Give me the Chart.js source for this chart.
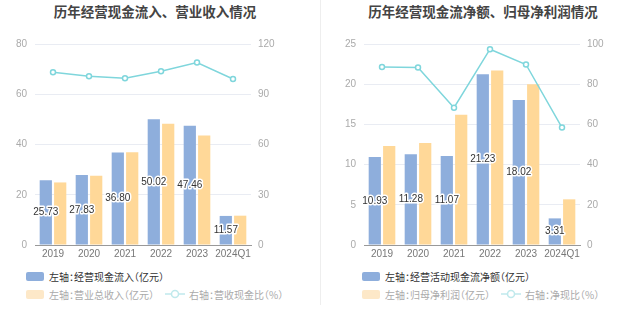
<!DOCTYPE html>
<html>
<head>
<meta charset="utf-8">
<script src="https://cdn.jsdelivr.net/npm/chart.js@4/dist/chart.umd.min.js"></script>
<style>
  body { margin: 0; width: 637px; height: 327px; background: #fff; position: relative; overflow: hidden;
         font-family: "Noto Sans CJK SC", sans-serif; }
  .panel { position: absolute; top: 0; height: 327px; }
  .panel canvas { position: absolute; left: 0; top: 0; }
  .title { position: absolute; top: 1px; font-size: 13.5px; font-weight: bold; color: #444; white-space: nowrap;
           transform: translateX(-50%); }
  .divider { position: absolute; left: 320px; top: 0; width: 1px; height: 305px; background: #eee; }
  .legend-row { position: absolute; display: flex; align-items: center; height: 12px; font-size: 10px;
                font-feature-settings: "halt"; white-space: nowrap; }
  .sw { width: 18px; height: 9px; border-radius: 2px; margin-right: 5px; }
  .item { display: flex; align-items: center; margin-right: 11px; }
  .item svg { margin-right: 4px; }
</style>
</head>
<body>
<div class="panel" style="left:0;width:318px">
  <div class="title" style="left:155px">历年经营现金流入、营业收入情况</div>
  <canvas id="chartLeft" width="318" height="262"></canvas>
  <div class="legend-row" style="left:26px;top:270px">
    <div class="item" style="color:#333"><div class="sw" style="background:#8eaedc"></div>左轴：经营现金流入（亿元）</div>
  </div>
  <div class="legend-row" style="left:26px;top:288px">
    <div class="item" style="color:#aaa"><div class="sw" style="background:#fde8c8"></div>左轴：营业总收入（亿元）</div>
    <div class="item" style="color:#aaa"><svg width="20" height="10"><line x1="0" y1="5" x2="20" y2="5" stroke="#bfe9ec" stroke-width="1.5"/><circle cx="10" cy="5" r="3.5" fill="#fff" stroke="#bfe9ec" stroke-width="1.5"/></svg>右轴：营收现金比（%）</div>
  </div>
</div>
<div class="divider"></div>
<div class="panel" style="left:320px;width:317px">
  <div class="title" style="left:163px">历年经营现金流净额、归母净利润情况</div>
  <canvas id="chartRight" width="317" height="262"></canvas>
  <div class="legend-row" style="left:42px;top:270px">
    <div class="item" style="color:#333"><div class="sw" style="background:#8eaedc"></div>左轴：经营活动现金流净额（亿元）</div>
  </div>
  <div class="legend-row" style="left:42px;top:288px">
    <div class="item" style="color:#aaa"><div class="sw" style="background:#fde8c8"></div>左轴：归母净利润（亿元）</div>
    <div class="item" style="color:#aaa"><svg width="20" height="10"><line x1="0" y1="5" x2="20" y2="5" stroke="#bfe9ec" stroke-width="1.5"/><circle cx="10" cy="5" r="3.5" fill="#fff" stroke="#bfe9ec" stroke-width="1.5"/></svg>右轴：净现比（%）</div>
  </div>
</div>
<script>
const years = ['2019', '2020', '2021', '2022', '2023', '2024Q1'];

// left chart
const cashInflow = [25.73, 27.83, 36.80, 50.02, 47.46, 11.57];
const revenue = [24.9, 27.6, 36.9, 48.3, 43.6, 11.67];
const cashRevenueRatio = [103.2, 100.8, 99.6, 103.7, 108.9, 99.1];

// right chart
const netCashFlow = [10.93, 11.28, 11.07, 21.23, 18.02, 3.31];
const netProfit = [12.3, 12.7, 16.2, 21.7, 20.0, 5.68];
const netCashRatio = [88.5, 88.3, 68.3, 97.4, 89.8, 58.4];

const BLUE = '#8eaedc';
const YELLOW = '#ffd898';
const TEAL = '#7fd6dc';

Chart.defaults.font.family = "'Liberation Sans', 'Noto Sans CJK SC', sans-serif";
Chart.defaults.font.size = 10;

// value labels in the middle of the blue bars (dataset 1, the line is dataset 0)
const barLabels = {
  id: 'barLabels',
  afterDatasetsDraw(chart) {
    const ctx = chart.ctx;
    const meta = chart.getDatasetMeta(1);
    const values = chart.data.datasets[1].data;
    ctx.save();
    ctx.font = "10px 'Liberation Sans', sans-serif";
    ctx.textAlign = 'center';
    ctx.textBaseline = 'middle';
    ctx.lineJoin = 'round';
    meta.data.forEach((bar, i) => {
      const y = (bar.y + bar.base) / 2;
      const txt = values[i].toFixed(2);
      ctx.strokeStyle = '#fff';
      ctx.lineWidth = 3;
      ctx.strokeText(txt, bar.x, y);
      ctx.fillStyle = '#333';
      ctx.fillText(txt, bar.x, y);
    });
    ctx.restore();
  }
};

function createChart(canvasId, bars1, bars2, line, leftMax, leftStep, rightMax, rightStep, leftW, rightW) {
  new Chart(document.getElementById(canvasId), {
    type: 'bar',
    data: {
      labels: years,
      datasets: [
        { type: 'line', data: line, yAxisID: 'y1', order: 0,
          borderColor: TEAL, borderWidth: 1.5, pointRadius: 2.5, pointBorderWidth: 1.5,
          pointBackgroundColor: '#fff', pointBorderColor: TEAL, tension: 0 },
        { data: bars1, yAxisID: 'y', order: 1, backgroundColor: BLUE,
          categoryPercentage: 0.8, barPercentage: 0.85 },
        { data: bars2, yAxisID: 'y', order: 1, backgroundColor: YELLOW,
          categoryPercentage: 0.8, barPercentage: 0.85 }
      ]
    },
    options: {
      responsive: false,
      animation: false,
      layout: { padding: { top: 44, left: 0, right: 0, bottom: 0 } },
      plugins: { legend: { display: false }, tooltip: { enabled: false } },
      scales: {
        x: {
          grid: { display: false, drawTicks: false },
          border: { color: '#999' },
          ticks: { color: '#777', padding: 3, maxRotation: 0, autoSkip: false },
          afterFit: s => { s.height = 17; }
        },
        y: {
          position: 'left', min: 0, max: leftMax,
          ticks: { stepSize: leftStep, color: '#aaa', padding: 8 },
          grid: { color: '#e9ecf3', drawTicks: false },
          border: { display: false },
          afterFit: s => { s.width = leftW; }
        },
        y1: {
          position: 'right', min: 0, max: rightMax,
          ticks: { stepSize: rightStep, color: '#aaa', padding: 7 },
          grid: { drawOnChartArea: false, drawTicks: false },
          border: { display: false },
          afterFit: s => { s.width = rightW; }
        }
      }
    },
    plugins: [barLabels]
  });
}

createChart('chartLeft', cashInflow, revenue, cashRevenueRatio, 80, 20, 120, 30, 35, 67);
createChart('chartRight', netCashFlow, netProfit, netCashRatio, 25, 5, 100, 20, 44, 57);
</script>
</body>
</html>
